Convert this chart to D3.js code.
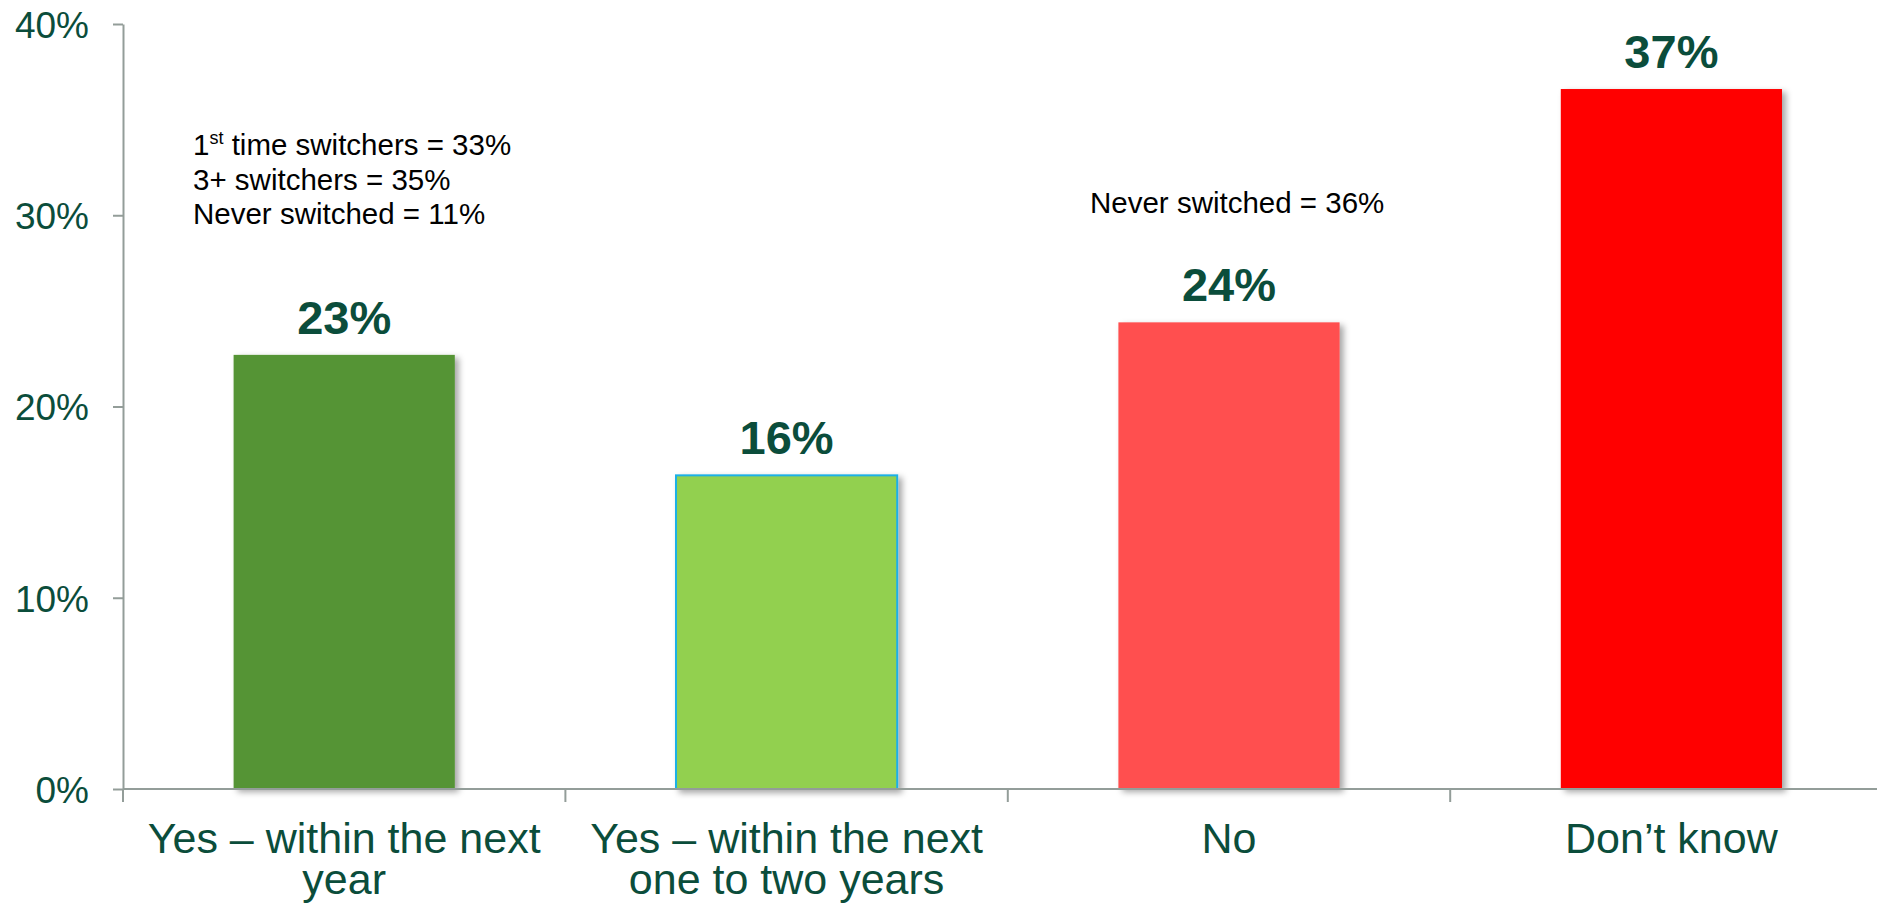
<!DOCTYPE html>
<html>
<head>
<meta charset="utf-8">
<script src="https://cdn.jsdelivr.net/npm/d3@7"></script>
<style>
  html, body { margin: 0; padding: 0; background: #ffffff; overflow: hidden; }
  svg { display: block; font-family: "Liberation Sans", Arial, sans-serif; }
</style>
</head>
<body>
<svg id="chart" width="1877" height="911"></svg>
<script>
// Intention to switch: share of respondents per answer
const categories = [
  "Yes \u2013 within the next year",
  "Yes \u2013 within the next one to two years",
  "No",
  "Don\u2019t know"
];
const values = [22.7, 16.4, 24.4, 36.6];
const barColors = ["#549434", "#92d050", "#ff5050", "#ff0000"];
const barStrokes = ["none", "#1fb0e6", "none", "none"];
const yTicks = [0, 10, 20, 30, 40];

// Sub-group notes shown above the bars
const notesYes = [
  { main: "1", sup: "st", rest: " time switchers = 33%" },
  { main: "3+ switchers = 35%" },
  { main: "Never switched = 11%" }
];
const notesNo = ["Never switched = 36%"];

const textColor = "#0b4d3b";
const axisColor = "#939d99";

const svg = d3.select("#chart");

const x0 = 123, step = 442.4;
const x = d3.scaleBand()
  .domain(categories)
  .range([x0, x0 + step * categories.length])
  .paddingInner(0.5)
  .paddingOuter(0.25);

const y = d3.scaleLinear().domain([0, 40]).range([789, 24]);

// soft drop shadow under each bar
const defs = svg.append("defs");
const f = defs.append("filter").attr("id", "shadow")
  .attr("x", "-10%").attr("y", "-10%").attr("width", "130%").attr("height", "130%");
f.append("feDropShadow")
  .attr("dx", 4).attr("dy", 3).attr("stdDeviation", 3)
  .attr("flood-color", "#000").attr("flood-opacity", 0.35);

// bars
svg.append("g").selectAll("rect")
  .data(values)
  .join("rect")
  .attr("x", (d, i) => x(categories[i]))
  .attr("y", d => y(d))
  .attr("width", x.bandwidth())
  .attr("height", d => y(0) - y(d))
  .attr("fill", (d, i) => barColors[i])
  .attr("stroke", (d, i) => barStrokes[i])
  .attr("stroke-width", 2)
  .attr("filter", "url(#shadow)");

// y axis
const yAxis = svg.append("g")
  .attr("transform", `translate(${x0},0)`)
  .call(d3.axisLeft(y).tickValues(yTicks).tickSize(10).tickSizeOuter(0)
    .tickPadding(24).tickFormat(d => d + "%"));
yAxis.select(".domain").attr("stroke", axisColor).attr("stroke-width", 2);
yAxis.selectAll(".tick line").attr("stroke", axisColor).attr("stroke-width", 2);
yAxis.selectAll(".tick text")
  .attr("fill", textColor)
  .attr("font-size", 37)
  .attr("font-family", "'Liberation Sans', Arial, sans-serif")
  .attr("dy", "0.36em");

// x axis baseline with ticks at category boundaries
const boundaries = categories.map(c => x(c) + x.bandwidth() / 2 - x.step() / 2);
const xa = svg.append("g");
xa.append("line")
  .attr("x1", x0).attr("x2", x0 + step * categories.length)
  .attr("y1", y(0)).attr("y2", y(0))
  .attr("stroke", axisColor).attr("stroke-width", 2);
xa.selectAll("line.tk")
  .data(boundaries)
  .join("line")
  .attr("class", "tk")
  .attr("x1", d => d).attr("x2", d => d)
  .attr("y1", y(0)).attr("y2", y(0) + 13)
  .attr("stroke", axisColor).attr("stroke-width", 2);

// category labels, wrapped to the band width
const catSize = 43, lineH = 41;
const measure = svg.append("text").attr("font-size", catSize).attr("visibility", "hidden");
function wrapLines(label, maxW) {
  const words = label.split(" ");
  const lines = [];
  let cur = [];
  words.forEach(w => {
    const trial = cur.concat([w]).join(" ");
    measure.text(trial);
    if (cur.length && measure.node().getComputedTextLength() > maxW) {
      lines.push(cur.join(" "));
      cur = [w];
    } else {
      cur.push(w);
    }
  });
  if (cur.length) lines.push(cur.join(" "));
  return lines;
}
const catG = svg.append("g");
categories.forEach(c => {
  const cx = x(c) + x.bandwidth() / 2;
  const lines = wrapLines(c, 430);
  const t = catG.append("text")
    .attr("text-anchor", "middle")
    .attr("font-size", catSize)
    .attr("fill", textColor);
  lines.forEach((ln, k) => {
    t.append("tspan").attr("x", cx).attr("y", 853 + k * lineH).text(ln);
  });
});
measure.remove();

// value labels above bars
svg.append("g").selectAll("text")
  .data(values)
  .join("text")
  .attr("x", (d, i) => x(categories[i]) + x.bandwidth() / 2)
  .attr("y", d => y(d) - 21)
  .attr("text-anchor", "middle")
  .attr("font-size", 47)
  .attr("font-weight", "bold")
  .attr("fill", textColor)
  .text(d => Math.round(d) + "%");

// notes
const noteG = svg.append("g").attr("font-size", 29.5).attr("fill", "#000");
notesYes.forEach((n, k) => {
  const t = noteG.append("text").attr("x", 193).attr("y", 155 + k * 34.7);
  t.append("tspan").text(n.main);
  if (n.sup) {
    t.append("tspan").attr("font-size", 18).attr("dy", -11).text(n.sup);
    t.append("tspan").attr("dy", 11).text(n.rest);
  }
});
notesNo.forEach((n, k) => {
  noteG.append("text").attr("x", 1090).attr("y", 213 + k * 34.7).text(n);
});
</script>
</body>
</html>
